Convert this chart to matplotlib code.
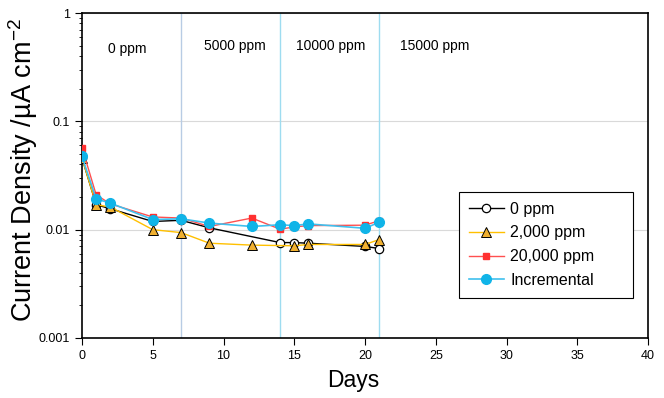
import numpy as np
import matplotlib.pyplot as plt

plt.rcParams['font.family'] = ['Liberation Sans', 'DejaVu Sans']
plt.rcParams['axes.unicode_minus'] = False

# 0 ppm
days_0 = [0, 1, 2, 5, 7, 9, 14, 15, 16, 20, 21]
cd_0 = [0.0458, 0.017, 0.0156, 0.0119, 0.0122, 0.0104, 0.0076, 0.0076, 0.0075, 0.0070, 0.0067]

# 2,000 ppm
days_2k = [0, 1, 2, 5, 7, 9, 12, 15, 16, 20, 21]
cd_2k = [0.046, 0.017, 0.0162, 0.0100, 0.0094, 0.0075, 0.0072, 0.0071, 0.0073, 0.0073, 0.0081]

# 20,000 ppm
days_20k = [0, 1, 2, 5, 7, 9, 12, 14, 15, 16, 20, 21]
cd_20k = [0.0573, 0.021, 0.0173, 0.0131, 0.0128, 0.0107, 0.0128, 0.0101, 0.0106, 0.0109, 0.0110, 0.0121]

# incremental
days_inc = [0, 1, 2, 5, 7, 9, 12, 14, 15, 16, 20, 21]
cd_inc = [0.0474, 0.0192, 0.0176, 0.0124, 0.0126, 0.0115, 0.0107, 0.0111, 0.0109, 0.0113, 0.0103, 0.0117]

step_days = [7, 14, 21]
step_colors = ['#b8cce4', '#9edcf0', '#9edcf0']
conc_labels = ['0 ppm', '5000 ppm', '10000 ppm', '15000 ppm']
conc_x = [3.2, 10.8, 17.6, 24.9]
conc_y = [0.465, 0.50, 0.50, 0.50]

fig = plt.figure(figsize=(6.64, 3.98), dpi=100)
ax = fig.add_axes([82/664, 60/398, 566/664, 325/398])

ax.set_yscale('log')
ax.set_xlim(0, 40)
ax.set_ylim(0.001, 1)
ax.grid(True, axis='y', which='major', color='#d9d9d9', lw=0.8)
ax.set_axisbelow(True)

for d, c in zip(step_days, step_colors):
    ax.axvline(d, color=c, lw=1, zorder=1)

for lab, xx, yy in zip(conc_labels, conc_x, conc_y):
    ax.text(xx, yy, lab, fontsize=10, ha='center', va='center', zorder=2,
            bbox=dict(facecolor='white', edgecolor='none', pad=6))

ax.plot(days_0, cd_0, color='black', lw=1, marker='o', ms=6,
        mfc='white', mec='black', mew=0.9, label='0 ppm', zorder=3)
ax.plot(days_2k, cd_2k, color='#ffc000', lw=1, marker='^', ms=6.5,
        mfc='#f0b030', mec='black', mew=0.7, label='2,000 ppm', zorder=3)
ax.plot(days_20k, cd_20k, color='#ff5050', lw=1, marker='s', ms=5,
        mfc='#ff3030', mec='#ff3030', label='20,000 ppm', zorder=4)
ax.plot(days_inc, cd_inc, color='#40c0ee', lw=1.2, marker='o', ms=7,
        mfc='#10b4e8', mec='#10b4e8', label='Incremental', zorder=5)

ax.set_xticks(np.arange(0, 41, 5))
ax.set_yticks([0.001, 0.01, 0.1, 1])
ax.set_yticklabels(['0.001', '0.01', '0.1', '1'])
ax.tick_params(axis='both', which='major', labelsize=9, direction='out', length=5)
ax.tick_params(axis='y', which='minor', direction='out', length=2.5)
for s in ax.spines.values():
    s.set_linewidth(1.2)

ax.set_xlabel('Days', fontsize=16.5)
ax.xaxis.set_label_coords(0.479, -0.095)
ax.set_ylabel('Current Density /µA cm$^{\\mathregular{-2}}$', fontsize=19.5)
ax.yaxis.set_label_coords(-0.074, 0.517)

leg = ax.legend(loc='upper left', bbox_to_anchor=(0.666, 0.117, 0.307, 0.332),
                mode='expand', borderaxespad=0, fontsize=11.5, frameon=True,
                fancybox=False, edgecolor='black', framealpha=1, borderpad=0.6,
                handlelength=2.2, handletextpad=0.4, labelspacing=0.55)
leg.get_frame().set_linewidth(0.8)

fig.savefig('out.png', dpi=100)
